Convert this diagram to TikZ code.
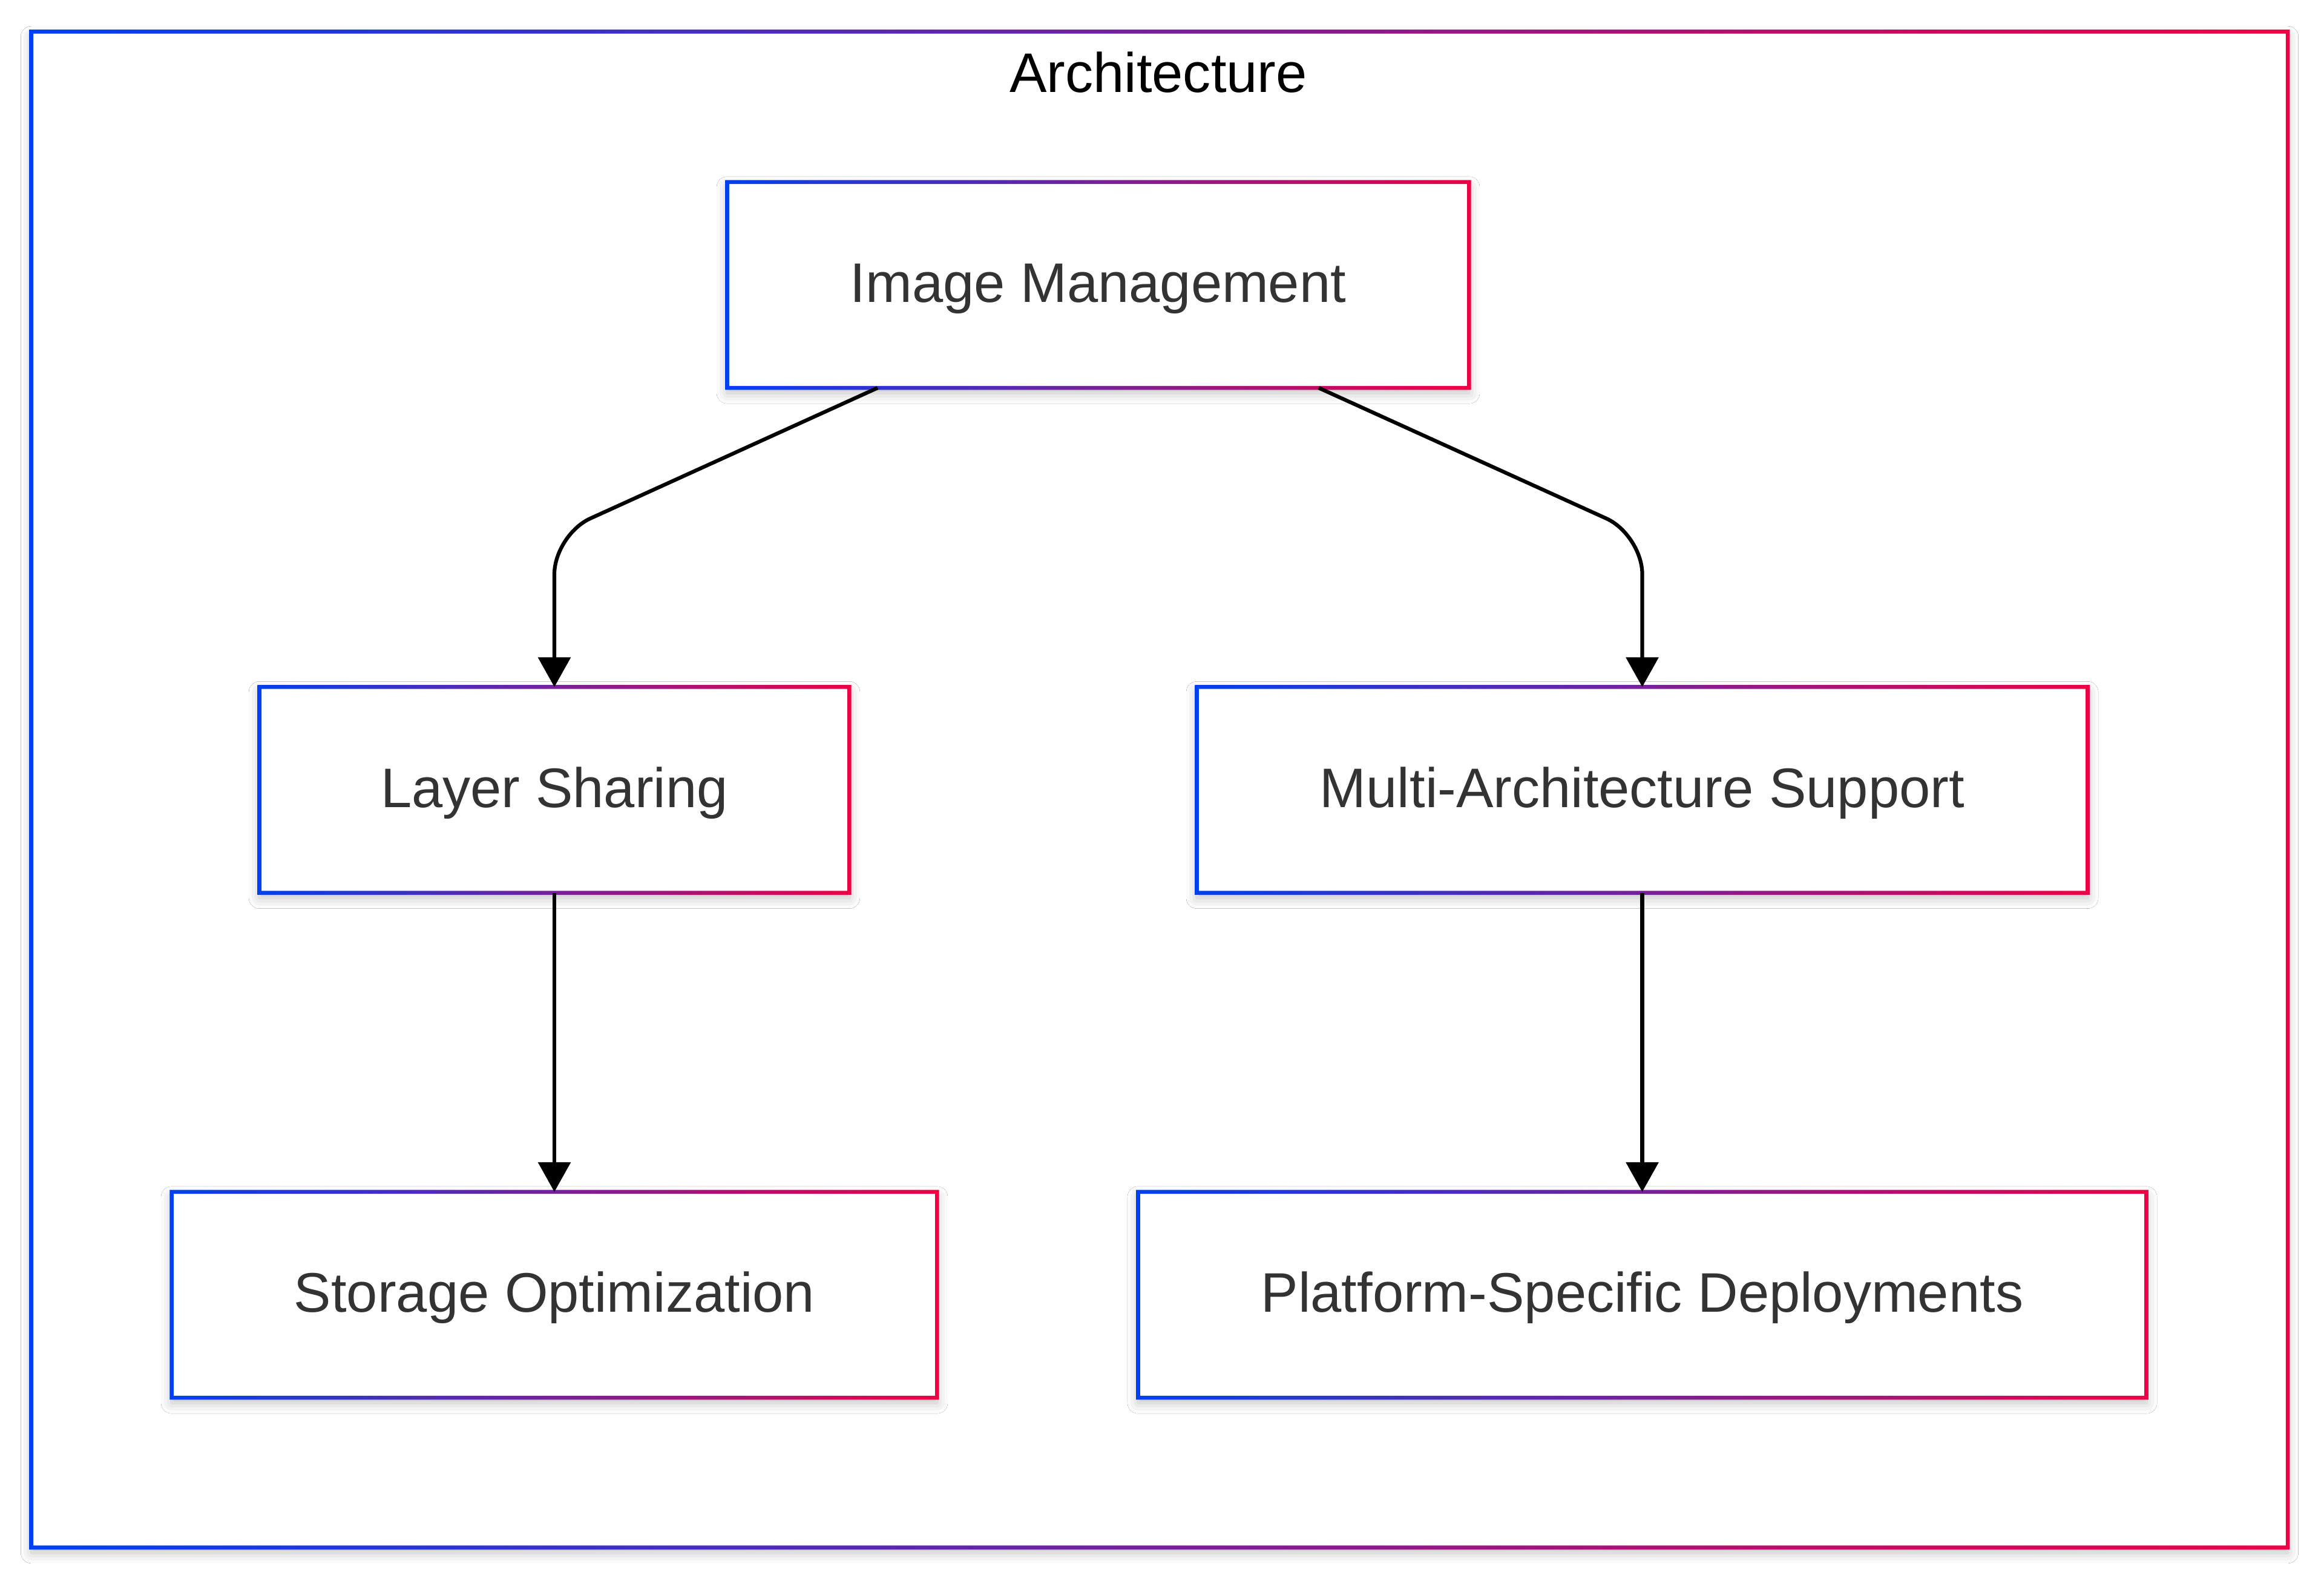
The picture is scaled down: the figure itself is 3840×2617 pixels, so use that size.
\documentclass[tikz,border=0pt]{standalone}
\usepackage{fontspec}
\setmainfont{Liberation Sans}
\usetikzlibrary{arrows.meta,calc,shadows.blur}
\definecolor{gl}{RGB}{0,64,240}
\definecolor{gr}{RGB}{238,0,68}
\definecolor{txt}{RGB}{51,51,51}
\newcommand{\gframe}[1]{%
  \shade[left color=gl, right color=gr, even odd rule]
    ([shift={(-3.3,-3.3)}]#1.north west) rectangle ([shift={(3.3,3.3)}]#1.south east)
    ([shift={(3.3,3.3)}]#1.north west) rectangle ([shift={(-3.3,-3.3)}]#1.south east);}
\tikzset{
  boxshadow/.style={blur shadow={shadow xshift=0pt, shadow yshift=-2.4pt, shadow blur radius=5pt, shadow opacity=25}},
  nodebox/.style={rectangle, fill=white, draw=none, outer sep=0pt, inner sep=0pt,
    minimum height=3.4cm, text=txt, font=\fontsize{26.2pt}{31pt}\selectfont,
    text height=16.2pt, text depth=0pt, boxshadow},
  framebox/.style={rectangle, fill=white, draw=none, outer sep=0pt, inner sep=0pt, boxshadow},
  edge/.style={draw=black, line width=0.062cm, -{Triangle[length=0.49cm, width=0.53cm]}},
}
\begin{document}
\begin{tikzpicture}[x=0.01cm, y=-0.01cm]
  \useasboundingbox (0,0) rectangle (3840,2617);
  \fill[white] (0,0) rectangle (3840,2617);
  % outer frame
  \node[framebox, minimum width=37.26cm, minimum height=25.04cm] (arch) at (1916,1305) {};
  \gframe{arch}
  \node[anchor=base, font=\fontsize{26.2pt}{31pt}\selectfont, text=black] (title) at (1914,152) {Architecture};
  % nodes
  \node[nodebox, minimum width=12.25cm] (im) at (1814.5,471) {Image Management};
  \node[nodebox, minimum width=9.74cm] (ls) at (916,1305.5) {Layer Sharing};
  \node[nodebox, minimum width=14.71cm] (ma) at (2713.5,1305.5) {Multi-Architecture Support};
  \node[nodebox, minimum width=12.64cm] (so) at (916,2140) {Storage Optimization};
  \node[nodebox, minimum width=16.65cm] (pd) at (2713.5,2140) {Platform-Specific Deployments};
  \gframe{im}
  \gframe{ls}
  \gframe{ma}
  \gframe{so}
  \gframe{pd}
  % edges
  \draw[edge, rounded corners=0.65cm] ($(im.south)+(-364.5,0)$) -- ($(ls.north)+(0,-251.5)$) -- (ls.north);
  \draw[edge, rounded corners=0.65cm] ($(im.south)+(364.5,0)$) -- ($(ma.north)+(0,-251.5)$) -- (ma.north);
  \draw[edge] (ls.south) -- (so.north);
  \draw[edge] (ma.south) -- (pd.north);
\end{tikzpicture}
\end{document}
